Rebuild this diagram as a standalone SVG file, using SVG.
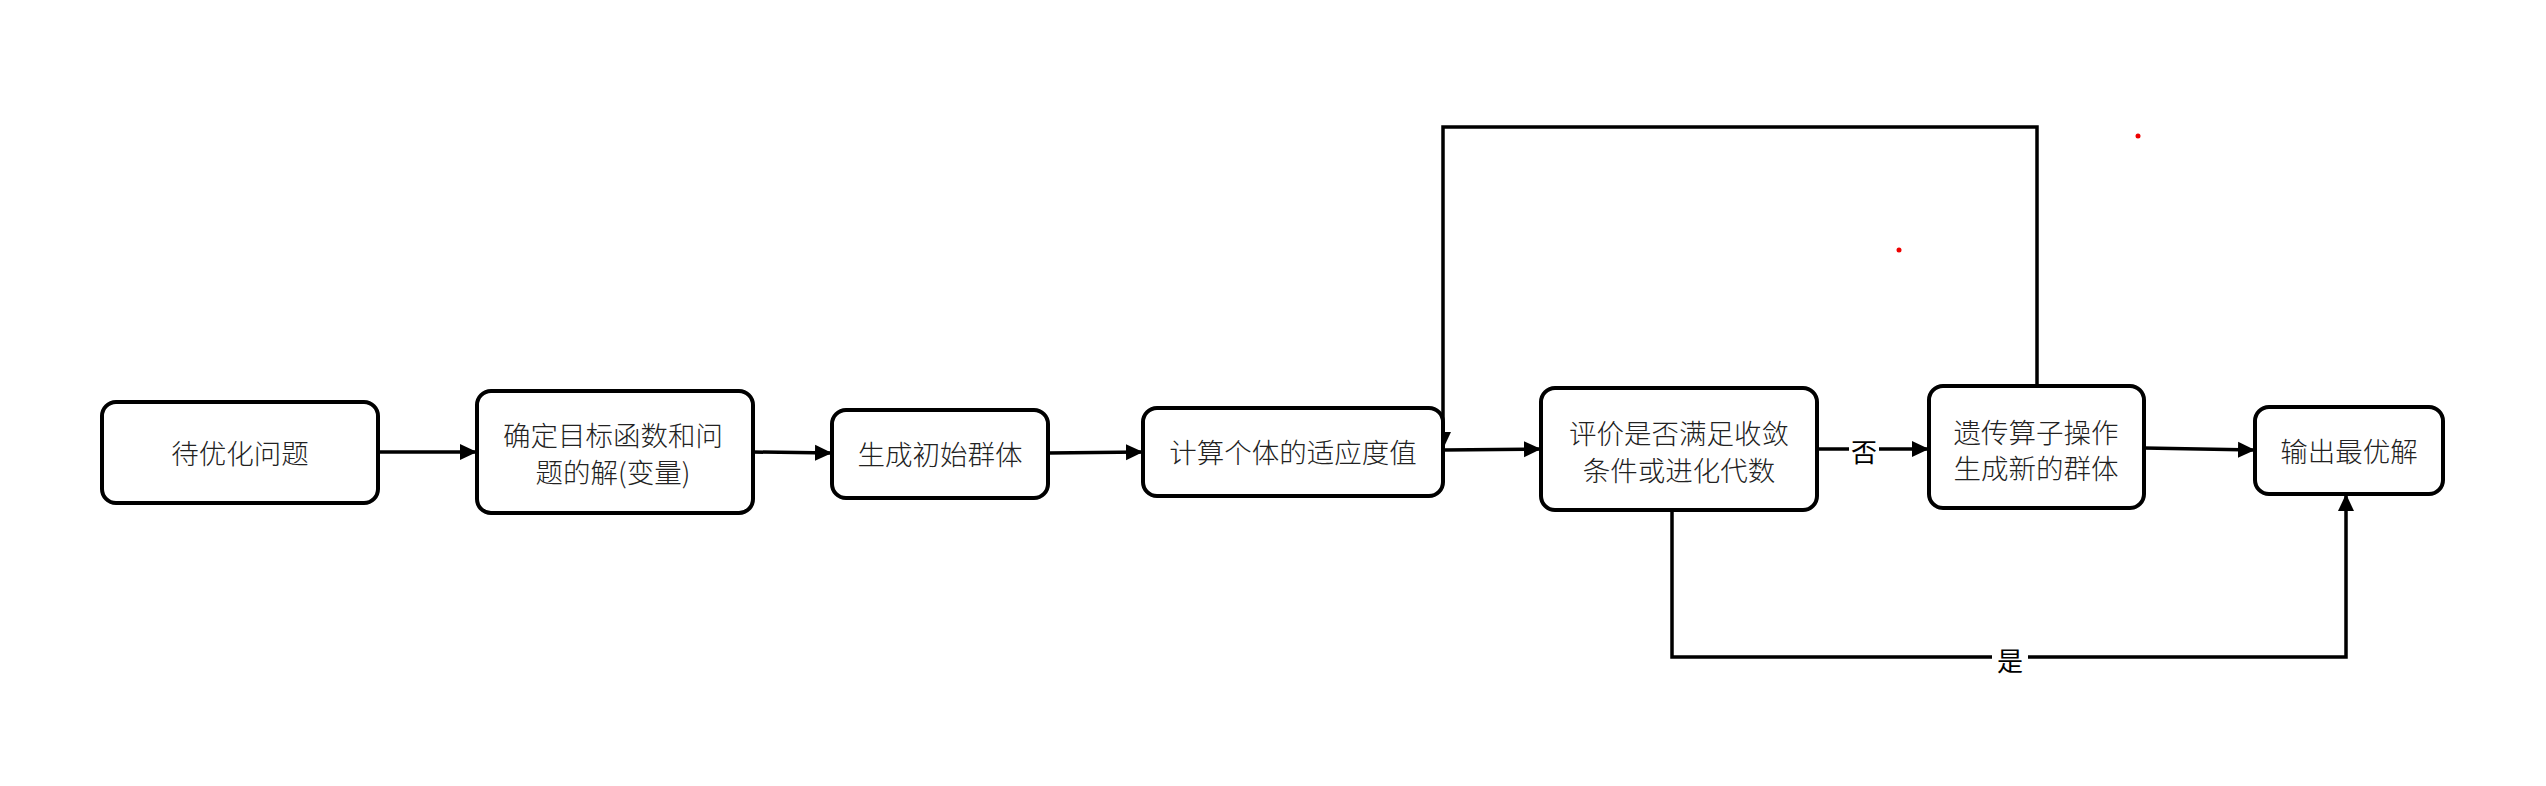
<svg xmlns="http://www.w3.org/2000/svg" width="2546" height="786" viewBox="0 0 2546 786">
  <defs>
    <marker id="arrow" markerUnits="userSpaceOnUse" markerWidth="18" markerHeight="18" viewBox="0 0 18 18" refX="17" refY="9" orient="auto">
      <path d="M0,1 L17,9 L0,17 Z" fill="#000"/>
    </marker>
  </defs>
  <style>
    .box { fill: #fff; stroke: #000; stroke-width: 4; }
    .txt { font-family: "Noto Sans CJK SC", "Liberation Sans", sans-serif; font-size: 27.5px; font-weight: 300; fill: #222; text-anchor: middle; dominant-baseline: central; }
    .edge { fill: none; stroke: #000; stroke-width: 3.5; }
    .lbl { font-family: "Noto Sans CJK SC", "Liberation Sans", sans-serif; font-size: 26px; fill: #000; text-anchor: middle; dominant-baseline: central; }
    .lblbg { fill: #fff; stroke: none; }
  </style>
  <rect x="0" y="0" width="2546" height="786" fill="#fff"/>

  <g id="connectors">
    <path class="edge" d="M378,452 L477,452" marker-end="url(#arrow)"/>
    <path class="edge" d="M753,452 L832,453" marker-end="url(#arrow)"/>
    <path class="edge" d="M1048,453 L1143,452" marker-end="url(#arrow)"/>
    <path class="edge" d="M1443,450 L1541,449" marker-end="url(#arrow)"/>
    <path class="edge" d="M2037,386 L2037,127 L1443,127 L1443,449" marker-end="url(#arrow)"/>
    <path class="edge" d="M1817,449 L1929,449" marker-end="url(#arrow)"/>
    <rect class="lblbg" x="1849" y="435" width="30" height="30"/>
    <text class="lbl" x="1864" y="450">否</text>
    <path class="edge" d="M2144,448 L2255,450" marker-end="url(#arrow)"/>
    <path class="edge" d="M1672,510 L1672,657 L2346,657 L2346,494" marker-end="url(#arrow)"/>
    <rect class="lblbg" x="1992" y="642" width="36" height="30"/>
    <text class="lbl" x="2010" y="659">是</text>
  </g>

  <g id="node1">
    <rect class="box" x="102" y="402" width="276" height="101" rx="14"/>
    <text class="txt" x="240" y="452">待优化问题</text>
  </g>
  <g id="node2">
    <rect class="box" x="477" y="391" width="276" height="122" rx="14"/>
    <text class="txt" x="613" y="434">确定目标函数和问</text>
    <text class="txt" x="613" y="471">题的解(变量)</text>
  </g>
  <g id="node3">
    <rect class="box" x="832" y="410" width="216" height="88" rx="14"/>
    <text class="txt" x="940" y="453">生成初始群体</text>
  </g>
  <g id="node4">
    <rect class="box" x="1143" y="408" width="300" height="88" rx="14"/>
    <text class="txt" x="1293" y="451">计算个体的适应度值</text>
  </g>
  <g id="node5">
    <rect class="box" x="1541" y="388" width="276" height="122" rx="14"/>
    <text class="txt" x="1679" y="432">评价是否满足收敛</text>
    <text class="txt" x="1679" y="469">条件或进化代数</text>
  </g>
  <g id="node6">
    <rect class="box" x="1929" y="386" width="215" height="122" rx="14"/>
    <text class="txt" x="2036" y="431">遗传算子操作</text>
    <text class="txt" x="2036" y="467">生成新的群体</text>
  </g>
  <g id="node7">
    <rect class="box" x="2255" y="407" width="188" height="87" rx="14"/>
    <text class="txt" x="2349" y="450">输出最优解</text>
  </g>

  <circle cx="2138" cy="136" r="2.5" fill="#e00"/>
  <circle cx="1899" cy="250" r="2.5" fill="#e00"/>
</svg>
